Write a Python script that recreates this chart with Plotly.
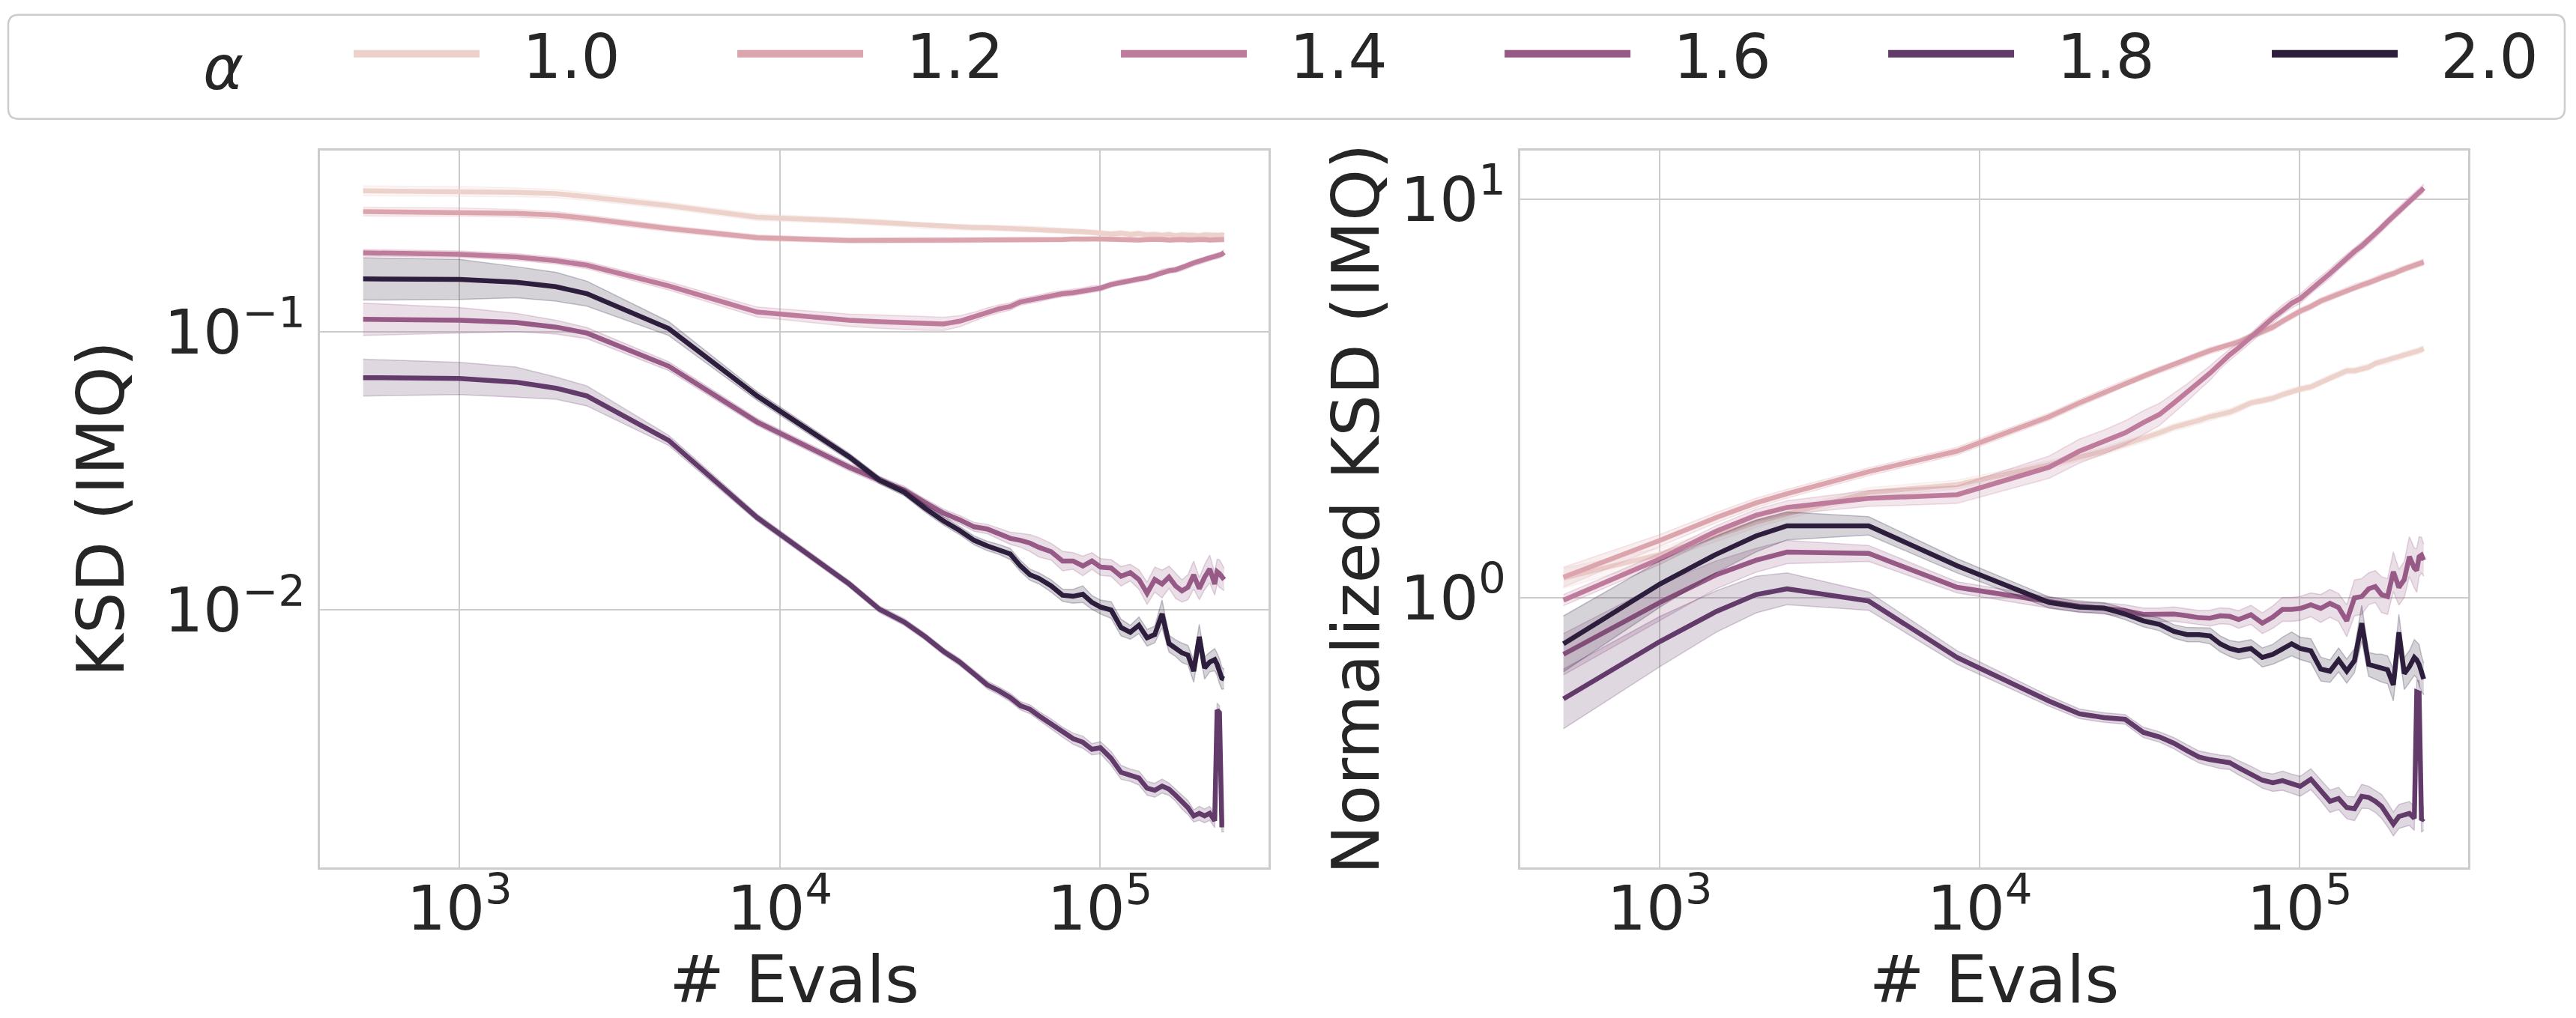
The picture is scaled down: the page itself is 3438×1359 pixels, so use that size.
import plotly.graph_objects as go

# hue levels and their cubehelix colours
alphas = ["1.0", "1.2", "1.4", "1.6", "1.8", "2.0"]
colors = ["#edd1cb", "#dca5ad", "#be7b9b", "#975a87", "#623b6b", "#2d1e3e"]

evals = [500, 1000, 1500, 2000, 2500, 4500, 8500, 16500, 20500, 24500,
         28500, 32500, 36500, 40500, 44500, 48500, 52500, 56500, 60500, 64500,
         70500, 76500, 82500, 88500, 94500, 100500, 108500, 116500, 124500, 132500,
         140500, 148500, 156500, 164500, 172500, 180500, 188500, 196500, 204500, 212500,
         220500, 228500, 232500, 236500, 240500, 244500]

# left panel: KSD (IMQ), mean per alpha
ksd_a10 = [0.321, 0.3195, 0.317, 0.3135, 0.306, 0.284, 0.258, 0.2506, 0.247, 0.244,
           0.240, 0.2385, 0.2375, 0.2367, 0.2367, 0.236, 0.235, 0.235, 0.234, 0.233,
           0.2314, 0.2305, 0.2297, 0.229, 0.228, 0.2262, 0.2245, 0.2262, 0.2236, 0.2253,
           0.2228, 0.2236, 0.2219, 0.2236, 0.2211, 0.2228, 0.2219, 0.2228, 0.2211, 0.2228,
           0.2219, 0.2219, 0.2228, 0.2219, 0.2228, 0.2219]
ksd_a12 = [0.2703, 0.2693, 0.2663, 0.2622, 0.2554, 0.2349, 0.2177, 0.2128, 0.2128, 0.2128,
           0.2128, 0.2128, 0.2128, 0.2136, 0.2136, 0.2136, 0.2136, 0.2136, 0.2145, 0.2145,
           0.2145, 0.2145, 0.2153, 0.2145, 0.2153, 0.2153, 0.2145, 0.2153, 0.2145, 0.2136,
           0.2145, 0.2153, 0.2145, 0.2136, 0.2145, 0.2145, 0.2136, 0.2145, 0.2153, 0.2145,
           0.2136, 0.2145, 0.2145, 0.2136, 0.2145, 0.2145]
ksd_a14 = [0.1921, 0.1899, 0.1857, 0.1801, 0.1734, 0.1462, 0.1177, 0.1100, 0.1087, 0.1079,
           0.1071, 0.1067, 0.1091, 0.1133, 0.1177, 0.1209, 0.1232, 0.1280, 0.1299, 0.1319,
           0.1349, 0.1370, 0.1381, 0.1402, 0.1423, 0.1434, 0.1478, 0.1507, 0.1524, 0.1548,
           0.1565, 0.1595, 0.1638, 0.1657, 0.1670, 0.1695, 0.1734, 0.1767, 0.1787, 0.1815,
           0.1843, 0.1864, 0.1871, 0.1878, 0.1899, 0.1928]
ksd_a16 = [0.1108, 0.1100, 0.1079, 0.1039, 0.0989, 0.0752, 0.0474, 0.0326, 0.0293, 0.0270,
           0.0243, 0.0223, 0.0211, 0.0199, 0.01955, 0.0188, 0.0181, 0.0178, 0.0174, 0.0168,
           0.0162, 0.0150, 0.0150, 0.0144, 0.0150, 0.01427, 0.01416, 0.01322, 0.01363, 0.01287,
           0.01149, 0.01287, 0.0124, 0.01312, 0.0122, 0.01171, 0.01207, 0.01337, 0.01193, 0.01312,
           0.01405, 0.0124, 0.01373, 0.01352, 0.01322, 0.01287]
ksd_a18 = [0.0684, 0.0679, 0.0659, 0.0627, 0.0588, 0.0407, 0.0215, 0.0124, 0.01006, 0.00905,
           0.00801, 0.0071, 0.0065, 0.00591, 0.00538, 0.00512, 0.00485, 0.00453, 0.0044, 0.00417,
           0.0039, 0.00364, 0.00345, 0.00335, 0.00316, 0.0032, 0.00293, 0.00261, 0.00255, 0.00249,
           0.00229, 0.00225, 0.00233, 0.00227, 0.00216, 0.00204, 0.00195, 0.00182, 0.00186, 0.00182,
           0.00186, 0.00175, 0.00437, 0.00428, 0.00169, 0.00169]
ksd_a20 = [0.1548, 0.1542, 0.1507, 0.1451, 0.137, 0.1027, 0.0588, 0.0355, 0.0293, 0.0265,
           0.0232, 0.0209, 0.0193, 0.0178, 0.0170, 0.0165, 0.0159, 0.0144, 0.0134, 0.0130,
           0.0122, 0.0113, 0.0112, 0.0114, 0.01065, 0.01025, 0.0100, 0.00865, 0.00832, 0.00881,
           0.00795, 0.00817, 0.00969, 0.00757, 0.00729, 0.00702, 0.00689, 0.00603, 0.00801, 0.00619,
           0.0065, 0.00663, 0.00638, 0.00603, 0.00569, 0.00565]

# left panel: half-width of the confidence band, in decades
ksd_a10_sd = [0.018, 0.017, 0.016, 0.015, 0.014, 0.012, 0.012, 0.011, 0.011, 0.010,
              0.010, 0.010, 0.010, 0.010, 0.010, 0.010, 0.010, 0.010, 0.010, 0.010,
              0.010, 0.010, 0.010, 0.010, 0.010, 0.010, 0.010, 0.010, 0.010, 0.010,
              0.010, 0.010, 0.010, 0.010, 0.010, 0.010, 0.010, 0.010, 0.010, 0.010,
              0.010, 0.010, 0.010, 0.010, 0.010, 0.010]
ksd_a12_sd = [0.016, 0.015, 0.014, 0.013, 0.012, 0.011, 0.010, 0.009, 0.009, 0.008,
              0.008, 0.008, 0.008, 0.008, 0.008, 0.008, 0.008, 0.008, 0.008, 0.008,
              0.008, 0.008, 0.008, 0.008, 0.008, 0.008, 0.008, 0.008, 0.008, 0.008,
              0.008, 0.008, 0.008, 0.008, 0.008, 0.008, 0.008, 0.008, 0.008, 0.008,
              0.008, 0.008, 0.008, 0.008, 0.008, 0.008]
ksd_a14_sd = [0.012, 0.012, 0.012, 0.012, 0.013, 0.015, 0.018, 0.022, 0.024, 0.025,
              0.025, 0.024, 0.020, 0.016, 0.015, 0.014, 0.013, 0.012, 0.012, 0.012,
              0.012, 0.011, 0.011, 0.011, 0.011, 0.010, 0.010, 0.010, 0.010, 0.010,
              0.010, 0.010, 0.010, 0.010, 0.010, 0.010, 0.010, 0.010, 0.010, 0.010,
              0.010, 0.010, 0.010, 0.010, 0.010, 0.010]
ksd_a16_sd = [0.058, 0.046, 0.033, 0.025, 0.020, 0.016, 0.013, 0.013, 0.013, 0.013,
              0.013, 0.014, 0.015, 0.016, 0.017, 0.020, 0.022, 0.025, 0.030, 0.035,
              0.030, 0.035, 0.030, 0.035, 0.030, 0.030, 0.030, 0.035, 0.030, 0.035,
              0.040, 0.045, 0.050, 0.040, 0.045, 0.040, 0.045, 0.050, 0.040, 0.045,
              0.050, 0.040, 0.045, 0.050, 0.045, 0.040]
ksd_a18_sd = [0.066, 0.058, 0.054, 0.040, 0.036, 0.018, 0.013, 0.012, 0.012, 0.012,
              0.012, 0.012, 0.013, 0.013, 0.014, 0.014, 0.015, 0.015, 0.016, 0.016,
              0.017, 0.018, 0.020, 0.022, 0.020, 0.022, 0.025, 0.025, 0.022, 0.025,
              0.025, 0.025, 0.025, 0.022, 0.022, 0.025, 0.025, 0.022, 0.025, 0.025,
              0.025, 0.025, 0.025, 0.025, 0.025, 0.025]
ksd_a20_sd = [0.076, 0.072, 0.056, 0.052, 0.045, 0.025, 0.016, 0.013, 0.013, 0.013,
              0.014, 0.015, 0.015, 0.016, 0.017, 0.018, 0.020, 0.020, 0.020, 0.020,
              0.022, 0.022, 0.025, 0.030, 0.025, 0.025, 0.030, 0.030, 0.025, 0.030,
              0.030, 0.030, 0.050, 0.030, 0.030, 0.035, 0.035, 0.040, 0.045, 0.040,
              0.035, 0.040, 0.040, 0.045, 0.040, 0.035]

# right panel: normalized KSD (IMQ), mean per alpha
nksd_a10 = [1.121, 1.286, 1.430, 1.548, 1.624, 1.839, 1.924, 2.157, 2.256, 2.334,
            2.429, 2.507, 2.595, 2.680, 2.730, 2.788, 2.848, 2.893, 2.924, 2.987,
            3.084, 3.125, 3.167, 3.235, 3.296, 3.340, 3.384, 3.474, 3.567, 3.634,
            3.712, 3.712, 3.762, 3.792, 3.873, 3.914, 3.935, 3.998, 4.019, 4.073,
            4.105, 4.127, 4.149, 4.172, 4.195, 4.218]
nksd_a12 = [1.127, 1.393, 1.590, 1.731, 1.825, 2.073, 2.334, 2.848, 3.084, 3.279,
            3.456, 3.596, 3.732, 3.843, 3.956, 4.073, 4.172, 4.239, 4.307, 4.387,
            4.529, 4.651, 4.775, 4.943, 5.103, 5.240, 5.381, 5.555, 5.674, 5.796,
            5.902, 6.012, 6.093, 6.174, 6.274, 6.374, 6.441, 6.510, 6.614, 6.684,
            6.755, 6.827, 6.863, 6.881, 6.918, 6.955]
nksd_a14 = [0.987, 1.252, 1.469, 1.611, 1.686, 1.777, 1.815, 2.128, 2.334, 2.462,
            2.595, 2.752, 2.886, 3.084, 3.270, 3.474, 3.664, 3.884, 4.073, 4.239,
            4.493, 4.775, 5.035, 5.282, 5.483, 5.630, 5.952, 6.223, 6.510, 6.827,
            7.105, 7.394, 7.632, 7.900, 8.177, 8.487, 8.784, 9.068, 9.335, 9.636,
            9.894, 10.16, 10.27, 10.38, 10.52, 10.66]
nksd_a16 = [0.722, 0.974, 1.142, 1.243, 1.303, 1.293, 1.063, 0.974, 0.953, 0.941,
            0.929, 0.909, 0.907, 0.911, 0.902, 0.892, 0.890, 0.902, 0.899, 0.883,
            0.907, 0.864, 0.895, 0.936, 0.936, 0.941, 0.961, 0.941, 0.969, 0.946,
            0.876, 1.000, 1.008, 1.054, 1.068, 1.019, 1.008, 1.163, 1.063, 1.112,
            1.269, 1.188, 1.172, 1.269, 1.280, 1.243]
nksd_a18 = [0.558, 0.777, 0.924, 1.019, 1.054, 0.982, 0.709, 0.551, 0.512, 0.501,
            0.496, 0.460, 0.448, 0.432, 0.414, 0.399, 0.393, 0.388, 0.386, 0.375,
            0.362, 0.349, 0.344, 0.348, 0.342, 0.337, 0.351, 0.329, 0.309, 0.314,
            0.298, 0.296, 0.318, 0.316, 0.309, 0.300, 0.286, 0.271, 0.283, 0.286,
            0.288, 0.280, 0.581, 0.578, 0.277, 0.280]
nksd_a20 = [0.767, 1.083, 1.286, 1.430, 1.516, 1.516, 1.204, 0.974, 0.948, 0.943,
            0.911, 0.876, 0.858, 0.824, 0.809, 0.809, 0.803, 0.767, 0.747, 0.737,
            0.747, 0.709, 0.722, 0.747, 0.767, 0.747, 0.737, 0.663, 0.655, 0.699,
            0.655, 0.696, 0.864, 0.681, 0.672, 0.667, 0.660, 0.605, 0.820, 0.646,
            0.672, 0.709, 0.699, 0.681, 0.646, 0.626]

# right panel: band half-widths, in decades
nksd_a10_sd = [0.025, 0.016, 0.014, 0.013, 0.012, 0.012, 0.011, 0.010, 0.010, 0.010,
               0.009, 0.009, 0.009, 0.009, 0.009, 0.009, 0.009, 0.009, 0.009, 0.009,
               0.008, 0.008, 0.008, 0.008, 0.008, 0.008, 0.008, 0.008, 0.008, 0.008,
               0.008, 0.008, 0.008, 0.008, 0.008, 0.008, 0.008, 0.008, 0.008, 0.008,
               0.008, 0.008, 0.008, 0.008, 0.008, 0.008]
nksd_a12_sd = [0.025, 0.015, 0.013, 0.012, 0.011, 0.010, 0.010, 0.009, 0.009, 0.009,
               0.008, 0.008, 0.008, 0.008, 0.008, 0.008, 0.008, 0.008, 0.008, 0.008,
               0.008, 0.008, 0.008, 0.008, 0.008, 0.008, 0.008, 0.008, 0.008, 0.008,
               0.008, 0.008, 0.008, 0.008, 0.008, 0.008, 0.008, 0.008, 0.008, 0.008,
               0.008, 0.008, 0.008, 0.008, 0.008, 0.008]
nksd_a14_sd = [0.014, 0.014, 0.014, 0.015, 0.017, 0.020, 0.022, 0.028, 0.030, 0.030,
               0.030, 0.030, 0.028, 0.025, 0.022, 0.020, 0.018, 0.015, 0.014, 0.013,
               0.012, 0.012, 0.012, 0.012, 0.012, 0.012, 0.012, 0.012, 0.012, 0.011,
               0.011, 0.011, 0.011, 0.010, 0.010, 0.010, 0.010, 0.010, 0.010, 0.010,
               0.010, 0.010, 0.010, 0.010, 0.010, 0.010]
nksd_a16_sd = [0.052, 0.046, 0.035, 0.030, 0.029, 0.020, 0.014, 0.014, 0.014, 0.014,
               0.015, 0.016, 0.017, 0.018, 0.018, 0.018, 0.020, 0.020, 0.020, 0.022,
               0.024, 0.026, 0.028, 0.030, 0.030, 0.030, 0.030, 0.035, 0.035, 0.035,
               0.040, 0.045, 0.045, 0.040, 0.040, 0.045, 0.045, 0.050, 0.045, 0.045,
               0.050, 0.050, 0.055, 0.050, 0.045, 0.040]
nksd_a18_sd = [0.075, 0.063, 0.052, 0.046, 0.040, 0.023, 0.017, 0.013, 0.012, 0.012,
               0.012, 0.013, 0.013, 0.014, 0.015, 0.015, 0.016, 0.017, 0.017, 0.018,
               0.019, 0.020, 0.022, 0.024, 0.024, 0.025, 0.026, 0.026, 0.028, 0.028,
               0.028, 0.030, 0.030, 0.028, 0.028, 0.030, 0.030, 0.030, 0.030, 0.030,
               0.030, 0.030, 0.030, 0.030, 0.030, 0.030]
nksd_a20_sd = [0.070, 0.058, 0.046, 0.040, 0.035, 0.023, 0.018, 0.014, 0.013, 0.013,
               0.014, 0.015, 0.016, 0.017, 0.018, 0.018, 0.020, 0.020, 0.020, 0.022,
               0.022, 0.024, 0.025, 0.028, 0.030, 0.028, 0.030, 0.030, 0.028, 0.030,
               0.030, 0.030, 0.045, 0.030, 0.032, 0.035, 0.035, 0.040, 0.045, 0.040,
               0.040, 0.045, 0.045, 0.050, 0.045, 0.040]

W, H = 3438, 1359
ML, MR, MT, MB = 427, 144, 195, 192
PW, PH = W - ML - MR, H - MT - MB
TEXT = "#262626"
FONT = "DejaVu Sans"
EDGE = "#cccccc"


def rgba(hex_color, a):
    h = hex_color.lstrip("#")
    return "rgba(%d,%d,%d,%s)" % (int(h[0:2], 16), int(h[2:4], 16), int(h[4:6], 16), a)


def px_x(px):
    return (px - ML) / PW


def px_y(py):
    return 1 - (py - MT) / PH


panels = [
    ("x", "y", [ksd_a10, ksd_a12, ksd_a14, ksd_a16, ksd_a18, ksd_a20],
     [ksd_a10_sd, ksd_a12_sd, ksd_a14_sd, ksd_a16_sd, ksd_a18_sd, ksd_a20_sd]),
    ("x2", "y2", [nksd_a10, nksd_a12, nksd_a14, nksd_a16, nksd_a18, nksd_a20],
     [nksd_a10_sd, nksd_a12_sd, nksd_a14_sd, nksd_a16_sd, nksd_a18_sd, nksd_a20_sd]),
]

fig = go.Figure()
for xa, ya, means, spreads in panels:
    for name, color, mean, sd in zip(alphas, colors, means, spreads):
        lo = [m / 10 ** s for m, s in zip(mean, sd)]
        hi = [m * 10 ** s for m, s in zip(mean, sd)]
        fig.add_trace(go.Scatter(x=evals, y=lo, xaxis=xa, yaxis=ya, mode="lines",
                                 line=dict(color=rgba(color, 0.25), width=1.5),
                                 showlegend=False, hoverinfo="skip"))
        fig.add_trace(go.Scatter(x=evals, y=hi, xaxis=xa, yaxis=ya, mode="lines",
                                 line=dict(color=rgba(color, 0.25), width=1.5),
                                 fill="tonexty", fillcolor=rgba(color, 0.2),
                                 showlegend=False, hoverinfo="skip"))
        fig.add_trace(go.Scatter(x=evals, y=mean, xaxis=xa, yaxis=ya, mode="lines",
                                 line=dict(color=color, width=6.5), name=name,
                                 showlegend=False))

# legend handles (thicker than the data lines, as in the original)
for name, color in zip(alphas, colors):
    fig.add_trace(go.Scatter(x=[None], y=[None], mode="lines",
                             line=dict(color=color, width=10),
                             name="\u00a0\u00a0" + name, showlegend=True))

axis_common = dict(
    type="log", showgrid=True, gridcolor=EDGE, gridwidth=2, zeroline=False,
    showline=True, mirror=True, linecolor=EDGE, linewidth=2.5, ticks="",
    tickfont=dict(family=FONT, size=82, color=TEXT),
)
xticks = dict(tickvals=[1e3, 1e4, 1e5],
              ticktext=["10<sup>3</sup>", "10<sup>4</sup>", "10<sup>5</sup>"],
              ticklabelstandoff=-18)

fig.update_layout(
    width=W, height=H,
    margin=dict(l=ML, r=MR, t=MT, b=MB),
    paper_bgcolor="white", plot_bgcolor="white",
    font=dict(family=FONT, color=TEXT, size=82),
    xaxis=dict(domain=[0, 1266 / PW], range=[2.564, 5.527], anchor="y",
               title=dict(text="# Evals", font=dict(size=88), standoff=25),
               **xticks, **axis_common),
    yaxis=dict(domain=[0, 1], range=[-2.925, -0.349], anchor="x",
               tickvals=[0.01, 0.1],
               ticktext=["10<sup>\u22122</sup>", "10<sup>\u22121</sup>"],
               title=dict(text="KSD (IMQ)", font=dict(size=88), standoff=25),
               **axis_common),
    xaxis2=dict(domain=[1602 / PW, 1], range=[2.564, 5.527], anchor="y2",
                title=dict(text="# Evals", font=dict(size=88), standoff=25),
                **xticks, **axis_common),
    yaxis2=dict(domain=[0, 1], range=[-0.676, 1.122], anchor="x2",
                tickvals=[1, 10],
                ticktext=["10<sup>0</sup>", "10<sup>1</sup>"],
                title=dict(text="Normalized KSD (IMQ)", font=dict(size=88), standoff=0),
                **axis_common),
    legend=dict(
        orientation="h", traceorder="normal",
        x=px_x(269), xanchor="left", y=px_y(64), yanchor="middle",
        title=dict(text="<i>\u03b1</i>", side="left", font=dict(size=82)),
        font=dict(size=82, color=TEXT), itemwidth=168, indentation=134,
        entrywidth=195, entrywidthmode="pixels",
        bgcolor="rgba(0,0,0,0)", borderwidth=0,
    ),
    showlegend=True,
)

# rounded legend frame
x0, y0, x1, y1, r = 11, 11, 3423, 152, 14
pts = [("M", x0 + r, y0), ("L", x1 - r, y0), ("Q", x1, y0, x1, y0 + r),
       ("L", x1, y1 - r), ("Q", x1, y1, x1 - r, y1), ("L", x0 + r, y1),
       ("Q", x0, y1, x0, y1 - r), ("L", x0, y0 + r), ("Q", x0, y0, x0 + r, y0)]
path = ""
for p in pts:
    coords = p[1:]
    parts = []
    for i in range(0, len(coords), 2):
        parts.append("%.5f,%.5f" % (px_x(coords[i]), px_y(coords[i + 1])))
    path += p[0] + " " + " ".join(parts) + " "
fig.add_shape(type="path", path=path + "Z", xref="paper", yref="paper",
              line=dict(color=EDGE, width=2.5), fillcolor="rgba(0,0,0,0)", layer="below")

# the page's default body margin would offset the figure by 8 px
fig.write_html("out.html", config={"displayModeBar": False},
               post_script="document.body.style.margin = '0';")
